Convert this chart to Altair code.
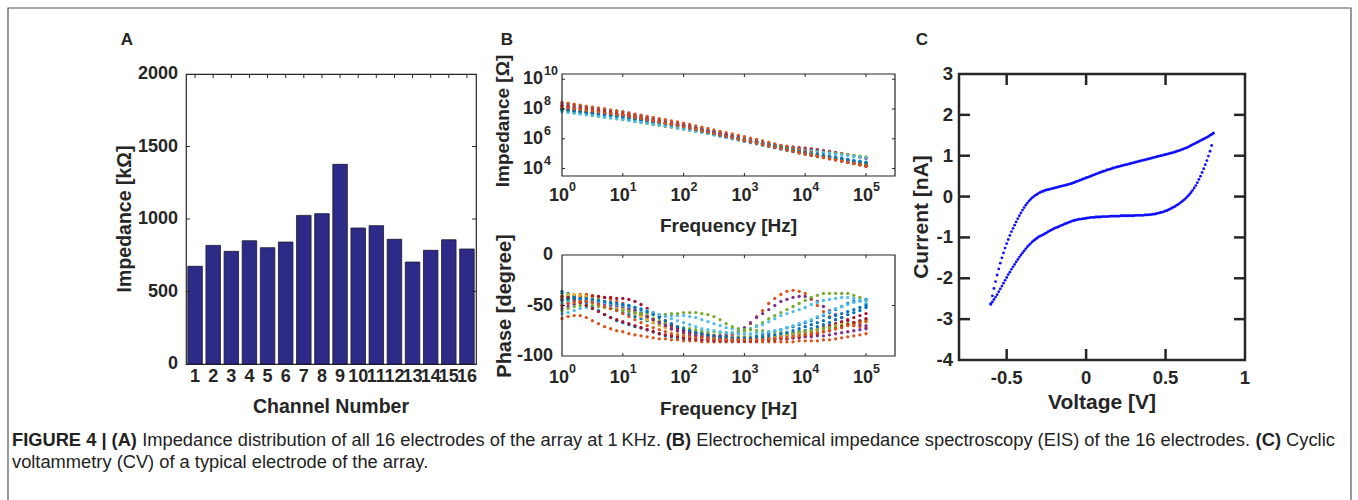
import altair as alt
import pandas as pd

# ---------------------------------------------------------------- data
CHANNELS = [1, 2, 3, 4, 5, 6, 7, 8, 9, 10, 11, 12, 13, 14, 15, 16]
IMPEDANCE_KOHM = [674, 818, 777, 850, 802, 841, 1025, 1037, 1377, 938, 954, 860, 703, 784, 857, 793]
A_Y_TICKS = [0, 500, 1000, 1500, 2000]
A_Y_INNER = [500, 1000, 1500]

FREQ_HZ = [1, 1.259, 1.585, 1.995, 2.512, 3.162, 3.981, 5.012, 6.310, 7.943,
           10, 12.59, 15.85, 19.95, 25.12, 31.62, 39.81, 50.12, 63.10, 79.43,
           100, 125.9, 158.5, 199.5, 251.2, 316.2, 398.1, 501.2, 631.0, 794.3,
           1000, 1259, 1585, 1995, 2512, 3162, 3981, 5012, 6310, 7943,
           10000, 12589, 15849, 19953, 25119, 31623, 39811, 50119, 63096, 79433, 100000]

# log10 |Z| (ohm) per electrode
LOG_Z_01 = [7.97, 7.92, 7.87, 7.81, 7.76, 7.71, 7.66, 7.61, 7.55, 7.50,
            7.45, 7.38, 7.30, 7.23, 7.15, 7.08, 7.01, 6.93, 6.86, 6.78,
            6.71, 6.62, 6.53, 6.45, 6.36, 6.27, 6.18, 6.09, 6.01, 5.92,
            5.83, 5.74, 5.66, 5.57, 5.49, 5.40, 5.31, 5.23, 5.14, 5.06,
            4.97, 4.91, 4.85, 4.79, 4.73, 4.67, 4.60, 4.54, 4.48, 4.42, 4.36]
LOG_Z_02 = [7.95, 7.90, 7.86, 7.81, 7.76, 7.72, 7.67, 7.62, 7.57, 7.53,
            7.48, 7.41, 7.34, 7.27, 7.20, 7.14, 7.07, 7.00, 6.93, 6.86,
            6.79, 6.70, 6.61, 6.53, 6.44, 6.35, 6.26, 6.17, 6.09, 6.00,
            5.91, 5.83, 5.76, 5.70, 5.64, 5.59, 5.54, 5.50, 5.46, 5.42,
            5.38, 5.34, 5.28, 5.22, 5.16, 5.09, 5.02, 4.94, 4.86, 4.78, 4.70]
LOG_Z_03 = [7.98, 7.93, 7.88, 7.83, 7.78, 7.73, 7.68, 7.63, 7.58, 7.53,
            7.48, 7.41, 7.34, 7.27, 7.20, 7.13, 7.05, 6.98, 6.91, 6.84,
            6.77, 6.68, 6.59, 6.51, 6.42, 6.33, 6.24, 6.15, 6.07, 5.98,
            5.89, 5.80, 5.71, 5.63, 5.54, 5.45, 5.36, 5.27, 5.19, 5.10,
            5.01, 4.93, 4.85, 4.78, 4.70, 4.62, 4.54, 4.46, 4.39, 4.31, 4.23]
LOG_Z_04 = [8.05, 8.00, 7.94, 7.89, 7.84, 7.78, 7.73, 7.68, 7.62, 7.57,
            7.52, 7.45, 7.38, 7.31, 7.23, 7.16, 7.09, 7.02, 6.95, 6.88,
            6.81, 6.72, 6.63, 6.55, 6.46, 6.37, 6.28, 6.19, 6.11, 6.02,
            5.93, 5.85, 5.77, 5.70, 5.64, 5.58, 5.52, 5.47, 5.42, 5.37,
            5.33, 5.28, 5.23, 5.18, 5.12, 5.06, 4.99, 4.92, 4.85, 4.77, 4.69]
LOG_Z_05 = [7.94, 7.89, 7.84, 7.79, 7.74, 7.69, 7.64, 7.59, 7.54, 7.49,
            7.44, 7.37, 7.30, 7.23, 7.16, 7.09, 7.02, 6.95, 6.88, 6.81,
            6.74, 6.66, 6.57, 6.49, 6.40, 6.32, 6.24, 6.15, 6.07, 5.98,
            5.90, 5.82, 5.74, 5.66, 5.59, 5.52, 5.46, 5.40, 5.34, 5.28,
            5.23, 5.18, 5.14, 5.10, 5.06, 5.01, 4.97, 4.93, 4.89, 4.84, 4.79]
LOG_Z_06 = [7.90, 7.84, 7.78, 7.72, 7.66, 7.61, 7.55, 7.49, 7.43, 7.37,
            7.31, 7.25, 7.18, 7.12, 7.06, 7.00, 6.93, 6.87, 6.81, 6.74,
            6.68, 6.60, 6.53, 6.45, 6.38, 6.30, 6.22, 6.15, 6.07, 6.00,
            5.92, 5.84, 5.76, 5.68, 5.61, 5.54, 5.47, 5.40, 5.34, 5.28,
            5.22, 5.16, 5.11, 5.06, 5.01, 4.96, 4.91, 4.87, 4.82, 4.77, 4.72]
LOG_Z_07 = [8.01, 7.96, 7.92, 7.87, 7.82, 7.78, 7.73, 7.68, 7.64, 7.59,
            7.54, 7.48, 7.41, 7.35, 7.29, 7.23, 7.16, 7.10, 7.04, 6.97,
            6.91, 6.82, 6.73, 6.64, 6.55, 6.46, 6.37, 6.28, 6.19, 6.10,
            6.01, 5.92, 5.83, 5.74, 5.65, 5.56, 5.47, 5.38, 5.29, 5.20,
            5.11, 5.03, 4.96, 4.88, 4.81, 4.73, 4.65, 4.58, 4.50, 4.43, 4.35]
LOG_Z_08 = [8.40, 8.34, 8.28, 8.22, 8.16, 8.11, 8.05, 7.99, 7.93, 7.87,
            7.81, 7.72, 7.64, 7.55, 7.47, 7.38, 7.29, 7.21, 7.12, 7.04,
            6.95, 6.86, 6.76, 6.67, 6.58, 6.49, 6.39, 6.30, 6.21, 6.11,
            6.02, 5.93, 5.84, 5.75, 5.66, 5.57, 5.48, 5.39, 5.30, 5.21,
            5.12, 5.05, 4.98, 4.91, 4.83, 4.76, 4.69, 4.62, 4.55, 4.48, 4.41]
LOG_Z_09 = [8.45, 8.39, 8.32, 8.26, 8.19, 8.13, 8.06, 8.00, 7.93, 7.87,
            7.80, 7.73, 7.65, 7.58, 7.50, 7.43, 7.35, 7.28, 7.20, 7.13,
            7.05, 6.96, 6.87, 6.78, 6.69, 6.60, 6.50, 6.41, 6.32, 6.23,
            6.14, 6.04, 5.95, 5.85, 5.76, 5.66, 5.56, 5.47, 5.37, 5.28,
            5.18, 5.08, 4.97, 4.87, 4.77, 4.67, 4.56, 4.46, 4.36, 4.25, 4.15]
LOG_Z_10 = [8.11, 8.06, 8.01, 7.96, 7.91, 7.86, 7.81, 7.76, 7.71, 7.66,
            7.61, 7.54, 7.46, 7.39, 7.32, 7.25, 7.17, 7.10, 7.03, 6.95,
            6.88, 6.79, 6.70, 6.61, 6.52, 6.43, 6.33, 6.24, 6.15, 6.06,
            5.97, 5.88, 5.79, 5.70, 5.61, 5.53, 5.44, 5.35, 5.26, 5.17,
            5.08, 5.00, 4.92, 4.85, 4.77, 4.69, 4.61, 4.53, 4.46, 4.38, 4.30]
LOG_Z_11 = [8.16, 8.11, 8.05, 8.00, 7.94, 7.89, 7.84, 7.78, 7.73, 7.67,
            7.62, 7.55, 7.48, 7.40, 7.33, 7.26, 7.19, 7.12, 7.04, 6.97,
            6.90, 6.81, 6.72, 6.62, 6.53, 6.44, 6.35, 6.26, 6.16, 6.07,
            5.98, 5.89, 5.80, 5.70, 5.61, 5.52, 5.43, 5.34, 5.24, 5.15,
            5.06, 4.97, 4.89, 4.80, 4.71, 4.63, 4.54, 4.45, 4.36, 4.28, 4.19]
LOG_Z_12 = [7.86, 7.80, 7.74, 7.69, 7.63, 7.57, 7.51, 7.45, 7.40, 7.34,
            7.28, 7.22, 7.15, 7.09, 7.02, 6.96, 6.90, 6.83, 6.77, 6.70,
            6.64, 6.57, 6.50, 6.43, 6.36, 6.29, 6.21, 6.14, 6.07, 6.00,
            5.93, 5.85, 5.76, 5.68, 5.59, 5.51, 5.43, 5.34, 5.26, 5.17,
            5.09, 5.01, 4.93, 4.86, 4.78, 4.70, 4.62, 4.54, 4.47, 4.39, 4.31]
LOG_Z_13 = [7.81, 7.76, 7.71, 7.66, 7.61, 7.56, 7.50, 7.45, 7.40, 7.35,
            7.30, 7.24, 7.17, 7.11, 7.05, 6.99, 6.92, 6.86, 6.80, 6.73,
            6.67, 6.59, 6.51, 6.42, 6.34, 6.26, 6.18, 6.10, 6.01, 5.93,
            5.85, 5.77, 5.69, 5.60, 5.52, 5.44, 5.36, 5.28, 5.19, 5.11,
            5.03, 4.97, 4.91, 4.85, 4.79, 4.74, 4.68, 4.62, 4.56, 4.50, 4.44]
LOG_Z_14 = [8.25, 8.19, 8.13, 8.07, 8.01, 7.95, 7.89, 7.83, 7.77, 7.71,
            7.65, 7.57, 7.48, 7.40, 7.32, 7.24, 7.15, 7.07, 6.99, 6.90,
            6.82, 6.73, 6.63, 6.54, 6.45, 6.36, 6.26, 6.17, 6.08, 5.98,
            5.89, 5.80, 5.71, 5.61, 5.52, 5.43, 5.34, 5.25, 5.15, 5.06,
            4.97, 4.89, 4.81, 4.73, 4.65, 4.57, 4.49, 4.41, 4.33, 4.25, 4.17]
LOG_Z_15 = [7.98, 7.93, 7.88, 7.83, 7.78, 7.73, 7.68, 7.63, 7.58, 7.53,
            7.48, 7.41, 7.35, 7.28, 7.21, 7.15, 7.08, 7.01, 6.94, 6.88,
            6.81, 6.72, 6.63, 6.55, 6.46, 6.37, 6.28, 6.19, 6.11, 6.02,
            5.93, 5.84, 5.76, 5.67, 5.58, 5.50, 5.41, 5.32, 5.23, 5.15,
            5.06, 4.99, 4.93, 4.86, 4.79, 4.73, 4.66, 4.59, 4.52, 4.46, 4.39]
LOG_Z_16 = [8.14, 8.09, 8.03, 7.98, 7.92, 7.87, 7.82, 7.76, 7.71, 7.65,
            7.60, 7.52, 7.44, 7.37, 7.29, 7.21, 7.13, 7.05, 6.98, 6.90,
            6.82, 6.73, 6.64, 6.54, 6.45, 6.36, 6.27, 6.18, 6.08, 5.99,
            5.90, 5.81, 5.72, 5.63, 5.54, 5.45, 5.35, 5.26, 5.17, 5.08,
            4.99, 4.91, 4.83, 4.75, 4.67, 4.59, 4.50, 4.42, 4.34, 4.26, 4.18]

# phase (degree) per electrode
PHASE_01 = [-38, -39, -41, -43, -45, -47, -49, -51, -53, -55,
            -57, -59, -61, -63, -65, -67, -69, -71, -73, -74,
            -75, -76, -77, -78, -79, -80, -80, -81, -81, -81,
            -81, -81, -80, -79, -78, -76, -74, -72, -71, -69,
            -67, -65, -62, -60, -57, -54, -51, -48, -46, -45, -44]
PHASE_02 = [-44, -42, -40, -39, -39, -40, -41, -42, -44, -46,
            -48, -51, -54, -57, -60, -63, -66, -69, -71, -73,
            -75, -77, -78, -79, -80, -80, -81, -81, -80, -78,
            -75, -68, -61, -55, -48, -43, -39, -36, -35, -36,
            -38, -44, -50, -56, -61, -64, -67, -69, -70, -71, -72]
PHASE_03 = [-47, -45, -43, -42, -42, -43, -44, -46, -48, -50,
            -52, -55, -57, -60, -62, -64, -66, -68, -70, -72,
            -73, -75, -76, -77, -78, -79, -80, -80, -81, -81,
            -81, -81, -81, -81, -80, -80, -79, -78, -77, -76,
            -75, -74, -73, -72, -71, -70, -69, -68, -67, -66, -65]
PHASE_04 = [-50, -48, -46, -45, -45, -46, -47, -48, -50, -52,
            -54, -56, -58, -60, -62, -64, -66, -68, -70, -72,
            -74, -75, -77, -78, -79, -80, -80, -79, -78, -76,
            -72, -67, -62, -58, -54, -50, -46, -44, -42, -41,
            -41, -43, -46, -51, -55, -59, -62, -65, -67, -69, -70]
PHASE_05 = [-42, -41, -40, -40, -41, -42, -44, -46, -48, -50,
            -52, -55, -57, -59, -61, -63, -65, -67, -69, -71,
            -72, -73, -74, -75, -76, -76, -77, -77, -77, -76,
            -75, -73, -70, -67, -63, -60, -57, -54, -51, -48,
            -45, -42, -40, -38, -38, -38, -38, -38, -40, -42, -45]
PHASE_06 = [-58, -57, -55, -53, -52, -51, -51, -51, -52, -52,
            -53, -54, -55, -56, -57, -58, -59, -59, -60, -60,
            -60, -61, -62, -64, -66, -68, -70, -72, -73, -74,
            -74, -73, -71, -69, -66, -63, -60, -58, -56, -54,
            -52, -49, -47, -45, -44, -43, -42, -42, -43, -45, -48]
PHASE_07 = [-44, -43, -42, -41, -41, -41, -41, -42, -42, -43,
            -43, -44, -46, -49, -53, -57, -61, -65, -69, -72,
            -75, -77, -79, -80, -81, -82, -82, -83, -83, -83,
            -83, -83, -83, -82, -82, -81, -81, -80, -79, -78,
            -77, -76, -74, -72, -70, -68, -66, -64, -62, -60, -58]
PHASE_08 = [-36, -38, -41, -44, -47, -51, -55, -59, -62, -65,
            -67, -69, -71, -72, -74, -76, -78, -80, -81, -82,
            -83, -83, -84, -84, -84, -84, -84, -84, -84, -84,
            -84, -83, -83, -82, -82, -81, -80, -79, -78, -76,
            -75, -73, -71, -69, -67, -64, -62, -59, -57, -55, -52]
PHASE_09 = [-63, -61, -60, -60, -62, -65, -68, -71, -73, -75,
            -76, -78, -79, -80, -81, -82, -83, -83, -84, -84,
            -85, -85, -85, -86, -86, -86, -86, -86, -86, -86,
            -86, -86, -86, -86, -86, -86, -86, -86, -86, -85,
            -85, -85, -85, -84, -84, -83, -82, -81, -80, -79, -78]
PHASE_10 = [-40, -39, -39, -40, -41, -43, -45, -47, -49, -51,
            -53, -55, -58, -61, -64, -67, -70, -72, -74, -76,
            -78, -79, -80, -81, -82, -82, -83, -83, -83, -83,
            -83, -83, -82, -82, -81, -81, -80, -79, -78, -77,
            -76, -75, -74, -73, -72, -70, -69, -68, -67, -66, -65]
PHASE_11 = [-53, -51, -49, -47, -46, -46, -47, -48, -49, -50,
            -51, -53, -55, -58, -61, -64, -67, -70, -73, -75,
            -77, -79, -80, -81, -82, -83, -83, -84, -84, -84,
            -84, -84, -84, -84, -84, -83, -83, -83, -82, -82,
            -81, -81, -80, -80, -79, -78, -77, -76, -75, -74, -73]
PHASE_12 = [-55, -53, -51, -50, -50, -50, -51, -52, -53, -54,
            -55, -56, -57, -58, -58, -59, -59, -59, -58, -58,
            -57, -57, -57, -58, -59, -61, -64, -68, -71, -73,
            -74, -74, -75, -75, -76, -76, -77, -77, -77, -76,
            -76, -75, -74, -73, -72, -71, -70, -68, -67, -66, -64]
PHASE_13 = [-48, -46, -45, -44, -44, -45, -46, -47, -48, -49,
            -50, -51, -52, -53, -55, -57, -59, -61, -63, -65,
            -67, -69, -71, -73, -74, -75, -76, -77, -77, -78,
            -78, -78, -77, -77, -76, -75, -74, -72, -70, -68,
            -66, -64, -61, -59, -56, -53, -51, -49, -47, -46, -45]
PHASE_14 = [-41, -42, -44, -47, -50, -53, -56, -59, -62, -64,
            -66, -68, -70, -72, -74, -76, -78, -79, -80, -81,
            -82, -83, -83, -84, -84, -85, -85, -85, -85, -85,
            -85, -85, -85, -84, -84, -84, -83, -83, -82, -81,
            -80, -79, -78, -76, -75, -73, -71, -69, -67, -65, -63]
PHASE_15 = [-45, -44, -43, -43, -43, -44, -45, -46, -47, -48,
            -49, -50, -52, -54, -56, -59, -62, -65, -68, -71,
            -73, -75, -77, -78, -79, -80, -81, -81, -82, -82,
            -82, -82, -81, -81, -80, -79, -78, -77, -75, -73,
            -71, -69, -67, -65, -62, -60, -58, -56, -54, -52, -50]
PHASE_16 = [-50, -48, -47, -46, -46, -47, -49, -51, -53, -55,
            -58, -61, -64, -67, -70, -72, -74, -76, -78, -79,
            -80, -81, -82, -82, -83, -83, -84, -84, -84, -84,
            -84, -84, -84, -84, -83, -83, -82, -82, -81, -80,
            -79, -78, -77, -76, -75, -73, -72, -70, -69, -67, -66]

SERIES = ["E01", "E02", "E03", "E04", "E05", "E06", "E07", "E08",
          "E09", "E10", "E11", "E12", "E13", "E14", "E15", "E16"]
SERIES_COLORS = ["#0072BD", "#D95319", "#EDB120", "#7E2F8E", "#77AC30", "#4DBEEE", "#A2142F",
                 "#0072BD", "#D95319", "#EDB120", "#7E2F8E", "#77AC30", "#4DBEEE", "#A2142F",
                 "#0072BD", "#D95319"]

DECADES = [1, 10, 100, 1000, 10000, 100000]
DECADE_EXP = ["0", "1", "2", "3", "4", "5"]
F_DOMAIN = [1, 300000]
Z_TICKS = [1e4, 1e6, 1e8, 1e10]
Z_TICK_EXP = ["4", "6", "8", "10"]
Z_DOMAIN = [3162, 2.24e10]
PHASE_TICKS = [0, -50, -100]
PHASE_TICK_TEXT = ["0", "-50", "-100"]
PHASE_INNER = [-50]

VOLT = [-0.60, -0.59, -0.58, -0.57, -0.56, -0.55, -0.54, -0.53, -0.52, -0.51,
        -0.50, -0.49, -0.48, -0.47, -0.46, -0.45, -0.44, -0.43, -0.42, -0.41,
        -0.40, -0.39, -0.38, -0.37, -0.36, -0.35, -0.34, -0.33, -0.32, -0.31,
        -0.30, -0.29, -0.28, -0.27, -0.26, -0.25, -0.24, -0.23, -0.22, -0.21,
        -0.20, -0.19, -0.18, -0.17, -0.16, -0.15, -0.14, -0.13, -0.12, -0.11,
        -0.10, -0.09, -0.08, -0.07, -0.06, -0.05, -0.04, -0.03, -0.02, -0.01,
        0.00, 0.01, 0.02, 0.03, 0.04, 0.05, 0.06, 0.07, 0.08, 0.09,
        0.10, 0.11, 0.12, 0.13, 0.14, 0.15, 0.16, 0.17, 0.18, 0.19,
        0.20, 0.21, 0.22, 0.23, 0.24, 0.25, 0.26, 0.27, 0.28, 0.29,
        0.30, 0.31, 0.32, 0.33, 0.34, 0.35, 0.36, 0.37, 0.38, 0.39,
        0.40, 0.41, 0.42, 0.43, 0.44, 0.45, 0.46, 0.47, 0.48, 0.49,
        0.50, 0.51, 0.52, 0.53, 0.54, 0.55, 0.56, 0.57, 0.58, 0.59,
        0.60, 0.61, 0.62, 0.63, 0.64, 0.65, 0.66, 0.67, 0.68, 0.69,
        0.70, 0.71, 0.72, 0.73, 0.74, 0.75, 0.76, 0.77, 0.78, 0.79,
        0.80]
CUR_FWD = [-2.62, -2.43, -2.25, -2.08, -1.92, -1.77, -1.63, -1.50, -1.38, -1.26,
           -1.15, -1.05, -0.95, -0.86, -0.78, -0.70, -0.62, -0.54, -0.47, -0.40,
           -0.33, -0.27, -0.21, -0.16, -0.11, -0.07, -0.03, 0.00, 0.03, 0.05,
           0.08, 0.10, 0.12, 0.13, 0.15, 0.16, 0.17, 0.18, 0.19, 0.20,
           0.21, 0.22, 0.23, 0.24, 0.25, 0.26, 0.27, 0.28, 0.29, 0.30,
           0.31, 0.32, 0.34, 0.35, 0.37, 0.38, 0.40, 0.41, 0.43, 0.44,
           0.46, 0.47, 0.49, 0.50, 0.52, 0.53, 0.55, 0.56, 0.58, 0.59,
           0.61, 0.62, 0.63, 0.65, 0.66, 0.67, 0.68, 0.70, 0.71, 0.72,
           0.73, 0.74, 0.75, 0.76, 0.77, 0.78, 0.79, 0.80, 0.81, 0.82,
           0.83, 0.84, 0.85, 0.86, 0.87, 0.88, 0.89, 0.90, 0.91, 0.92,
           0.93, 0.94, 0.95, 0.96, 0.97, 0.98, 0.99, 1.00, 1.01, 1.02,
           1.03, 1.04, 1.05, 1.06, 1.07, 1.08, 1.09, 1.11, 1.12, 1.13,
           1.15, 1.16, 1.18, 1.19, 1.21, 1.23, 1.25, 1.27, 1.29, 1.31,
           1.33, 1.35, 1.37, 1.39, 1.41, 1.43, 1.45, 1.47, 1.50, 1.52,
           1.55]
CUR_REV = [-2.64, -2.58, -2.52, -2.46, -2.40, -2.33, -2.26, -2.19, -2.12, -2.05,
           -1.98, -1.91, -1.85, -1.78, -1.72, -1.66, -1.60, -1.54, -1.48, -1.43,
           -1.38, -1.33, -1.28, -1.23, -1.19, -1.15, -1.11, -1.08, -1.05, -1.02,
           -0.99, -0.97, -0.95, -0.93, -0.91, -0.89, -0.86, -0.84, -0.82, -0.80,
           -0.78, -0.76, -0.75, -0.73, -0.71, -0.70, -0.68, -0.66, -0.65, -0.63,
           -0.62, -0.60, -0.59, -0.58, -0.57, -0.56, -0.55, -0.55, -0.54, -0.54,
           -0.53, -0.52, -0.52, -0.51, -0.51, -0.51, -0.50, -0.50, -0.50, -0.50,
           -0.49, -0.49, -0.49, -0.49, -0.49, -0.48, -0.48, -0.48, -0.48, -0.48,
           -0.48, -0.48, -0.47, -0.47, -0.47, -0.47, -0.47, -0.47, -0.47, -0.47,
           -0.47, -0.46, -0.46, -0.46, -0.46, -0.46, -0.46, -0.45, -0.45, -0.45,
           -0.44, -0.44, -0.43, -0.43, -0.42, -0.41, -0.40, -0.39, -0.38, -0.37,
           -0.35, -0.34, -0.32, -0.30, -0.28, -0.26, -0.24, -0.21, -0.19, -0.16,
           -0.13, -0.10, -0.07, -0.03, 0.01, 0.05, 0.10, 0.15, 0.21, 0.27,
           0.34, 0.42, 0.50, 0.59, 0.68, 0.78, 0.88, 0.99, 1.11, 1.25,
           1.55]
C_X_TICKS = [-0.5, 0, 0.5, 1]
C_X_TICK_TEXT = ["-0.5", "0", "0.5", "1"]
C_X_INNER = [-0.5, 0, 0.5]
C_Y_TICKS = [-4, -3, -2, -1, 0, 1, 2, 3]
C_Y_TICK_TEXT = ["-4", "-3", "-2", "-1", "0", "1", "2", "3"]
C_Y_INNER = [-3, -2, -1, 0, 1, 2]

CAPTION_LINE1 = ["FIGURE 4 | (A)", "Impedance distribution of all 16 electrodes of the array at 1\u2009KHz.",
                 "(B)", "Electrochemical impedance spectroscopy (EIS) of the 16 electrodes.", "(C)", "Cyclic"]
CAPTION_LINE2 = "voltammetry (CV) of a typical electrode of the array."

# ---------------------------------------------------------------- style
FONT = "Liberation Sans"
INK = "#262626"


def label(txt, x, y, size, weight="bold", align="center", baseline="middle", angle=0, color=INK):
    mk = dict(font=FONT, fontSize=size, fontWeight=weight, align=align, baseline=baseline, color=color)
    if angle:
        mk["angle"] = angle
    return alt.Chart(pd.DataFrame({"t": [txt]})).mark_text(**mk).encode(
        text="t:N", x=alt.value(x), y=alt.value(y))


def tick_text(df, size, align="center", **enc):
    return alt.Chart(df).mark_text(font=FONT, fontWeight="bold", fontSize=size, color=INK,
                                   align=align, baseline="middle").encode(**enc)


one = pd.DataFrame({"k": [0]})

# ---------------------------------------------------------------- panel A
W_A, H_A = 290, 290
df_a = pd.DataFrame({"ch": CHANNELS, "imp": IMPEDANCE_KOHM, "lab": [str(c) for c in CHANNELS]})
a_x = alt.Scale(paddingInner=0.2, paddingOuter=0.1)
a_y = alt.Scale(domain=[0, 2000], nice=False)
bars = alt.Chart(df_a).mark_bar(color="#2e2a87", stroke="#18182c", strokeWidth=0.8).encode(
    x=alt.X("ch:O", scale=a_x, axis=None),
    y=alt.Y("imp:Q", scale=a_y, axis=None))
df_ayi = pd.DataFrame({"v": A_Y_INNER})
a_tl = alt.Chart(df_ayi).mark_rule(color=INK, strokeWidth=1).encode(
    y=alt.Y("v:Q", scale=a_y, axis=None), x=alt.value(0), x2=alt.value(4))
a_tr = alt.Chart(df_ayi).mark_rule(color=INK, strokeWidth=1).encode(
    y=alt.Y("v:Q", scale=a_y, axis=None), x=alt.value(W_A - 4), x2=alt.value(W_A))
a_tt = alt.Chart(df_a).mark_rule(color=INK, strokeWidth=1).encode(
    x=alt.X("ch:O", scale=a_x, axis=None), y=alt.value(0), y2=alt.value(4))
a_xlab = tick_text(df_a, 18, x=alt.X("ch:O", scale=a_x, axis=None), y=alt.value(303), text="lab:N")
df_ayt = pd.DataFrame({"v": A_Y_TICKS, "t": [str(v) for v in A_Y_TICKS]})
a_ylab = tick_text(df_ayt, 18, align="right", x=alt.value(-8), y=alt.Y("v:Q", scale=a_y, axis=None), text="t:N")
a_titles = [label("Channel Number", W_A / 2, 333, 19.5),
            label("Impedance [k\u03a9]", -61, H_A / 2, 19.5, angle=270)]

border = alt.Chart(one).mark_rect(fill="transparent", stroke="#555555", strokeWidth=1.2).encode(
    x=alt.value(-178), x2=alt.value(1165), y=alt.value(-66), y2=alt.value(460))

letters = [label("A", -59, -34, 17), label("B", 321, -34, 17), label("C", 736, -34, 17)]

CAP_SIZE = 18.3
cap_x = [-174, -43.8, 479.7, 510.2, 1069.6, 1100.1]
cap_w = ["bold", "normal", "bold", "normal", "bold", "normal"]
caption = [label(t, x, 367, CAP_SIZE, weight=w, align="left", color="#222222")
           for t, x, w in zip(CAPTION_LINE1, cap_x, cap_w)]
caption.append(label(CAPTION_LINE2, -174, 389, CAP_SIZE, weight="normal", align="left", color="#222222"))

panel_a = alt.layer(border, bars, a_tl, a_tr, a_tt, a_xlab, a_ylab, *a_titles, *letters, *caption).properties(
    width=W_A, height=H_A, view=alt.ViewBackground(stroke=INK, strokeWidth=1.2))

# ---------------------------------------------------------------- panel B
W_B, H_B = 333, 282
Z_TOP, Z_BOT = 0, 102
P_TOP, P_BOT = 181, 282
LOG_Z = [LOG_Z_01, LOG_Z_02, LOG_Z_03, LOG_Z_04, LOG_Z_05, LOG_Z_06, LOG_Z_07, LOG_Z_08,
         LOG_Z_09, LOG_Z_10, LOG_Z_11, LOG_Z_12, LOG_Z_13, LOG_Z_14, LOG_Z_15, LOG_Z_16]
PHASE = [PHASE_01, PHASE_02, PHASE_03, PHASE_04, PHASE_05, PHASE_06, PHASE_07, PHASE_08,
         PHASE_09, PHASE_10, PHASE_11, PHASE_12, PHASE_13, PHASE_14, PHASE_15, PHASE_16]
rows = []
for name, lz, ph in zip(SERIES, LOG_Z, PHASE):
    for f, a, p in zip(FREQ_HZ, lz, ph):
        rows.append({"f": f, "z": 10 ** a, "ph": p, "s": name})
df_b = pd.DataFrame(rows)

x_b = alt.X("f:Q", scale=alt.Scale(type="log", domain=F_DOMAIN, nice=False), axis=None)
z_sc = alt.Scale(type="log", domain=Z_DOMAIN, range=[Z_BOT, Z_TOP], nice=False)
p_sc = alt.Scale(domain=[-100, 0], range=[P_BOT, P_TOP], nice=False)
col = alt.Color("s:N", scale=alt.Scale(domain=SERIES, range=SERIES_COLORS), legend=None)

mag_pts = alt.Chart(df_b).mark_circle(size=11, opacity=1).encode(
    x=x_b, y=alt.Y("z:Q", scale=z_sc, axis=None), color=col)
ph_pts = alt.Chart(df_b).mark_circle(size=11, opacity=1).encode(
    x=x_b, y=alt.Y("ph:Q", scale=p_sc, axis=None), color=col)

frame_z = alt.Chart(one).mark_rect(fill="transparent", stroke=INK, strokeWidth=1.2).encode(
    x=alt.value(0), x2=alt.value(W_B), y=alt.value(Z_TOP), y2=alt.value(Z_BOT))
frame_p = alt.Chart(one).mark_rect(fill="transparent", stroke=INK, strokeWidth=1.2).encode(
    x=alt.value(0), x2=alt.value(W_B), y=alt.value(P_TOP), y2=alt.value(P_BOT))

df_dec = pd.DataFrame({"f": DECADES, "e": DECADE_EXP, "b": ["10"] * len(DECADES)})
df_dec_in = df_dec[df_dec["f"] > F_DOMAIN[0]]
b_ticks = []
for y0, y1 in [(Z_BOT, Z_BOT - 3), (Z_TOP, Z_TOP + 3), (P_BOT, P_BOT - 3), (P_TOP, P_TOP + 3)]:
    b_ticks.append(alt.Chart(df_dec_in).mark_rule(color=INK, strokeWidth=1).encode(
        x=x_b, y=alt.value(y0), y2=alt.value(y1)))
df_zt = pd.DataFrame({"z": Z_TICKS, "e": Z_TICK_EXP, "b": ["10"] * len(Z_TICKS)})
df_pi = pd.DataFrame({"ph": PHASE_INNER})
for x0, x1 in [(0, 3), (W_B - 3, W_B)]:
    b_ticks.append(alt.Chart(df_zt).mark_rule(color=INK, strokeWidth=1).encode(
        y=alt.Y("z:Q", scale=z_sc, axis=None), x=alt.value(x0), x2=alt.value(x1)))
    b_ticks.append(alt.Chart(df_pi).mark_rule(color=INK, strokeWidth=1).encode(
        y=alt.Y("ph:Q", scale=p_sc, axis=None), x=alt.value(x0), x2=alt.value(x1)))

B_LAB = 18
B_SUP = 12.5
b_labels = []
for yy in [122, 304]:
    b_labels.append(alt.Chart(df_dec).mark_text(font=FONT, fontWeight="bold", fontSize=B_LAB, color=INK,
                                                align="center", baseline="middle", dx=-3).encode(
        x=x_b, y=alt.value(yy), text="b:N"))
    b_labels.append(alt.Chart(df_dec).mark_text(font=FONT, fontWeight="bold", fontSize=B_SUP, color=INK,
                                                align="left", baseline="middle", dx=7, dy=-9).encode(
        x=x_b, y=alt.value(yy), text="e:N"))
b_labels.append(alt.Chart(df_zt).mark_text(font=FONT, fontWeight="bold", fontSize=B_LAB, color=INK,
                                           align="right", baseline="middle").encode(
    x=alt.value(-19), y=alt.Y("z:Q", scale=z_sc, axis=None), text="b:N"))
b_labels.append(alt.Chart(df_zt).mark_text(font=FONT, fontWeight="bold", fontSize=B_SUP, color=INK,
                                           align="left", baseline="middle", dy=-8).encode(
    x=alt.value(-18), y=alt.Y("z:Q", scale=z_sc, axis=None), text="e:N"))
df_pt = pd.DataFrame({"ph": PHASE_TICKS, "t": PHASE_TICK_TEXT})
b_labels.append(alt.Chart(df_pt).mark_text(font=FONT, fontWeight="bold", fontSize=B_LAB, color=INK,
                                           align="right", baseline="middle").encode(
    x=alt.value(-9), y=alt.Y("ph:Q", scale=p_sc, axis=None), text="t:N"))

b_titles = [
    label("Frequency [Hz]", W_B / 2, 152, 19),
    label("Frequency [Hz]", W_B / 2, 335, 19),
    label("Impedance [\u03a9]", -59, 47, 19, angle=270),
    label("Phase [degree]", -57, 232, 20, angle=270),
]

panel_b = alt.layer(mag_pts, ph_pts, frame_z, frame_p, *b_ticks, *b_labels, *b_titles).resolve_scale(
    y="independent").properties(width=W_B, height=H_B, view=alt.ViewBackground(stroke="transparent"))

# ---------------------------------------------------------------- panel C
W_C, H_C = 286, 286
df_c = pd.DataFrame({"v": VOLT + VOLT, "i": CUR_FWD + CUR_REV})
c_x = alt.Scale(domain=[-0.8, 1], nice=False)
c_y = alt.Scale(domain=[-4, 3], nice=False)
cv = alt.Chart(df_c).mark_circle(size=8, opacity=1, color="#1010ff").encode(
    x=alt.X("v:Q", scale=c_x, axis=None),
    y=alt.Y("i:Q", scale=c_y, axis=None))
df_cx = pd.DataFrame({"v": C_X_INNER})
df_cy = pd.DataFrame({"i": C_Y_INNER})
c_ticks = []
for y0, y1 in [(H_C, H_C - 11), (0, 11)]:
    c_ticks.append(alt.Chart(df_cx).mark_rule(color=INK, strokeWidth=2.5).encode(
        x=alt.X("v:Q", scale=c_x, axis=None), y=alt.value(y0), y2=alt.value(y1)))
for x0, x1 in [(0, 11), (W_C, W_C - 11)]:
    c_ticks.append(alt.Chart(df_cy).mark_rule(color=INK, strokeWidth=2.5).encode(
        y=alt.Y("i:Q", scale=c_y, axis=None), x=alt.value(x0), x2=alt.value(x1)))
df_cxt = pd.DataFrame({"v": C_X_TICKS, "t": C_X_TICK_TEXT})
df_cyt = pd.DataFrame({"i": C_Y_TICKS, "t": C_Y_TICK_TEXT})
c_labels = [
    tick_text(df_cxt, 18.5, x=alt.X("v:Q", scale=c_x, axis=None), y=alt.value(304), text="t:N"),
    tick_text(df_cyt, 18.5, align="right", x=alt.value(-6), y=alt.Y("i:Q", scale=c_y, axis=None), text="t:N"),
    label("Voltage [V]", W_C / 2, 329, 21),
    label("Current [nA]", -37, H_C / 2, 21, angle=270),
]

panel_c = alt.layer(cv, *c_ticks, *c_labels).properties(
    width=W_C, height=H_C, view=alt.ViewBackground(stroke=INK, strokeWidth=2.5))


# ---------------------------------------------------------------- spacers & layout
def spacer(w):
    return alt.Chart(one).mark_point(opacity=0).encode(
        x=alt.X("k:Q", axis=None), y=alt.Y("k:Q", axis=None)).properties(
        width=w, height=10, view=alt.ViewBackground(stroke="transparent"))


chart = alt.hconcat(panel_a, spacer(86), panel_b, spacer(64), panel_c, spacing=0, bounds="flush").properties(
    autosize=alt.AutoSizeParams(type="none"),
    padding={"left": 186, "top": 74, "right": 1172, "bottom": 426},
    background="white",
).configure_view(stroke="transparent")

chart.save("out.html", embed_options={"renderer": "svg", "actions": False})
